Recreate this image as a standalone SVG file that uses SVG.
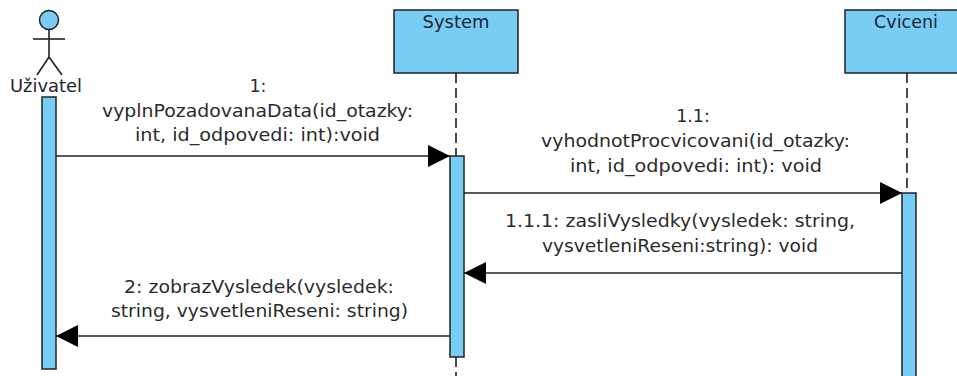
<svg xmlns="http://www.w3.org/2000/svg" width="957" height="376" viewBox="0 0 957 376">
<style>
.bg{fill:#ffffff}
.box{fill:#78cdf5;stroke:#222;stroke-width:1.5}
.life{stroke:#111;stroke-width:1.5;stroke-dasharray:10 5;fill:none}
.msg{stroke:#222;stroke-width:1.6;fill:none}
.lbl{font-family:"DejaVu Sans","Liberation Sans",sans-serif;font-size:17.5px;fill:#2b2b2b;text-anchor:middle}
.ttl{font-family:"DejaVu Sans","Liberation Sans",sans-serif;font-size:17.5px;fill:#1c2430;text-anchor:middle}
.stick{stroke:#222;stroke-width:1.6;fill:none}
</style>
<defs>
<marker id="ah" markerUnits="userSpaceOnUse" viewBox="0 0 22 22" refX="22" refY="11" markerWidth="22" markerHeight="22" orient="auto">
<path d="M0,0 L22,11 L0,22 z" fill="#000"/>
</marker>
</defs>
<rect class="bg" x="0" y="0" width="957" height="376"/>

<g id="lifelines">
<line class="life" x1="456" y1="73" x2="456" y2="156"/>
<line class="life" x1="456" y1="357" x2="456" y2="376"/>
<line class="life" x1="907" y1="73" x2="907" y2="193"/>
</g>

<g id="uzivatel">
<circle class="box" cx="49" cy="20" r="9.5"/>
<line class="stick" x1="49" y1="29.5" x2="49" y2="57"/>
<line class="stick" x1="33" y1="39" x2="65" y2="39"/>
<line class="stick" x1="49" y1="57" x2="37" y2="75"/>
<line class="stick" x1="49" y1="57" x2="62" y2="75"/>
<text class="ttl" x="46" y="92" textLength="72" lengthAdjust="spacingAndGlyphs">Uživatel</text>
<rect class="box" x="42" y="97" width="14" height="272"/>
</g>

<g id="system">
<rect class="box" x="394" y="10" width="124" height="63"/>
<text class="ttl" x="456" y="28" textLength="67" lengthAdjust="spacingAndGlyphs">System</text>
<rect class="box" x="450" y="156" width="14" height="201"/>
</g>

<g id="cviceni">
<rect class="box" x="845" y="10" width="124" height="63"/>
<text class="ttl" x="906" y="28">Cviceni</text>
<rect class="box" x="902" y="193" width="14" height="190"/>
</g>

<g id="connectors">
<line class="msg" x1="56" y1="156" x2="450" y2="156" marker-end="url(#ah)"/>
<line class="msg" x1="464" y1="193" x2="902" y2="193" marker-end="url(#ah)"/>
<line class="msg" x1="902" y1="273" x2="464" y2="273" marker-end="url(#ah)"/>
<line class="msg" x1="450" y1="336" x2="56" y2="336" marker-end="url(#ah)"/>
</g>

<g id="labels">
<text class="lbl" x="258" y="92">1:</text>
<text class="lbl" x="257.5" y="117" textLength="311" lengthAdjust="spacingAndGlyphs">vyplnPozadovanaData(id_otazky:</text>
<text class="lbl" x="257.5" y="141" textLength="245" lengthAdjust="spacingAndGlyphs">int, id_odpovedi: int):void</text>

<text class="lbl" x="693" y="122">1.1:</text>
<text class="lbl" x="695.5" y="147" textLength="309" lengthAdjust="spacingAndGlyphs">vyhodnotProcvicovani(id_otazky:</text>
<text class="lbl" x="696" y="172" textLength="252" lengthAdjust="spacingAndGlyphs">int, id_odpovedi: int): void</text>

<text class="lbl" x="680" y="227" textLength="350" lengthAdjust="spacingAndGlyphs">1.1.1: zasliVysledky(vysledek: string,</text>
<text class="lbl" x="680" y="252" textLength="276" lengthAdjust="spacingAndGlyphs">vysvetleniReseni:string): void</text>

<text class="lbl" x="259" y="293" textLength="270" lengthAdjust="spacingAndGlyphs">2: zobrazVysledek(vysledek:</text>
<text class="lbl" x="259.5" y="317" textLength="297" lengthAdjust="spacingAndGlyphs">string, vysvetleniReseni: string)</text>
</g>
</svg>
